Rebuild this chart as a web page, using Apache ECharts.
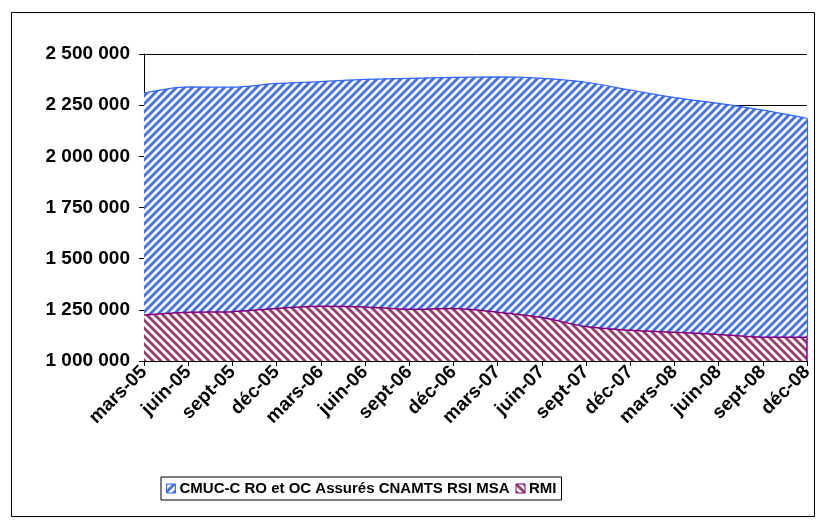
<!DOCTYPE html>
<html>
<head>
<meta charset="utf-8">
<script src="https://cdn.jsdelivr.net/npm/echarts@6/dist/echarts.min.js"></script>
<style>
  html, body { margin: 0; padding: 0; background: #fff; }
  #chart { width: 819px; height: 520px; }
</style>
</head>
<body>
<div id="chart"></div>
<script>
// Quarterly beneficiary counts
const categories = ['mars-05', 'juin-05', 'sept-05', 'déc-05', 'mars-06', 'juin-06', 'sept-06', 'déc-06',
                    'mars-07', 'juin-07', 'sept-07', 'déc-07', 'mars-08', 'juin-08', 'sept-08', 'déc-08'];
const cmucValues = [2309000, 2339000, 2338000, 2356000, 2365000, 2376000, 2381000, 2386000,
                    2388000, 2381000, 2362000, 2324000, 2287000, 2259000, 2226000, 2186000];
const rmiValues  = [1225000, 1238000, 1241000, 1257000, 1267000, 1264000, 1253000, 1256000,
                    1238000, 1212000, 1168000, 1150000, 1140000, 1130000, 1116000, 1116000];
const seriesNames = ['CMUC-C RO et OC Assurés CNAMTS RSI MSA', 'RMI'];
const yTicks = { min: 1000000, max: 2500000, interval: 250000 };

// Hatched fills on white: forward diagonal for CMUC-C, backward diagonal for RMI
function hatch(color, forward) {
  const s = 8;
  const c = document.createElement('canvas');
  c.width = s; c.height = s;
  const g = c.getContext('2d');
  g.fillStyle = '#fff';
  g.fillRect(0, 0, s, s);
  g.strokeStyle = color;
  g.lineWidth = 2.8;
  g.beginPath();
  if (forward) {
    g.moveTo(-1, s + 1); g.lineTo(s + 1, -1);
    g.moveTo(-2, 2); g.lineTo(2, -2);
    g.moveTo(s - 2, s + 2); g.lineTo(s + 2, s - 2);
  } else {
    g.moveTo(-1, -1); g.lineTo(s + 1, s + 1);
    g.moveTo(-2, s - 2); g.lineTo(2, s + 2);
    g.moveTo(s - 2, -2); g.lineTo(s + 2, 2);
  }
  g.stroke();
  return { image: c, repeat: 'repeat' };
}
const bluePattern = hatch('#3d6cf5', true);
const plumPattern = hatch('#9a3868', false);

const fmt = v => String(v).replace(/\B(?=(\d{3})+(?!\d))/g, ' ');
const last = categories.length - 1;

const chart = echarts.init(document.getElementById('chart'), null, { renderer: 'canvas' });
chart.setOption({
  animation: false,
  backgroundColor: '#fff',
  textStyle: { fontFamily: '"Liberation Sans", Arial, sans-serif' },
  graphic: [{
    type: 'rect',
    shape: { x: 11.5, y: 12.5, width: 803, height: 504 },
    style: { fill: 'none', stroke: '#000', lineWidth: 1 },
    silent: true
  }],
  grid: { left: 144, right: 12, top: 54, bottom: 159 },
  legend: {
    left: 161, top: 477,
    padding: [4, 5],
    borderColor: '#000', borderWidth: 1,
    itemWidth: 9, itemHeight: 9, itemGap: 6,
    icon: 'rect',
    textStyle: { fontSize: 15, fontWeight: 'bold', color: '#000', padding: [0, 0, 0, -1] },
    data: [
      { name: seriesNames[0], itemStyle: { color: bluePattern, borderColor: '#3366ff', borderWidth: 1 } },
      { name: seriesNames[1], itemStyle: { color: plumPattern, borderColor: '#800080', borderWidth: 1 } }
    ]
  },
  xAxis: {
    type: 'category',
    data: categories,
    boundaryGap: false,
    axisLine: { lineStyle: { color: '#000', width: 1 } },
    axisTick: { length: 5, lineStyle: { color: '#000' } },
    axisLabel: { rotate: 45, interval: 0, margin: 8, fontSize: 19, fontWeight: 'bold', color: '#000' },
    splitLine: { show: false }
  },
  yAxis: {
    type: 'value',
    min: yTicks.min, max: yTicks.max, interval: yTicks.interval,
    axisLine: { show: true, lineStyle: { color: '#000', width: 1 } },
    axisTick: { show: true, length: 5, lineStyle: { color: '#000' } },
    axisLabel: { formatter: fmt, margin: 14, fontSize: 19, fontWeight: 'bold', color: '#000' },
    splitLine: { show: true, lineStyle: { color: '#000', width: 1 } }
  },
  series: [
    {
      name: seriesNames[0],
      type: 'line',
      data: cmucValues,
      smooth: 0.3,
      symbol: 'none',
      lineStyle: { color: '#3366ff', width: 1.2 },
      itemStyle: { color: '#3366ff' },
      areaStyle: { color: bluePattern, origin: 'start', opacity: 1 },
      markLine: {
        silent: true, symbol: 'none', label: { show: false },
        lineStyle: { color: '#3366ff', type: 'solid', width: 1.2 },
        data: [[{ coord: [last, rmiValues[last]] }, { coord: [last, cmucValues[last]] }]]
      }
    },
    {
      name: seriesNames[1],
      type: 'line',
      data: rmiValues,
      smooth: 0.3,
      symbol: 'none',
      lineStyle: { color: '#800080', width: 1.5 },
      itemStyle: { color: '#800080' },
      areaStyle: { color: plumPattern, origin: 'start', opacity: 1 },
      markLine: {
        silent: true, symbol: 'none', label: { show: false },
        lineStyle: { color: '#800080', type: 'solid', width: 1.5 },
        data: [[{ coord: [last, yTicks.min] }, { coord: [last, rmiValues[last]] }]]
      }
    }
  ]
});
</script>
</body>
</html>
